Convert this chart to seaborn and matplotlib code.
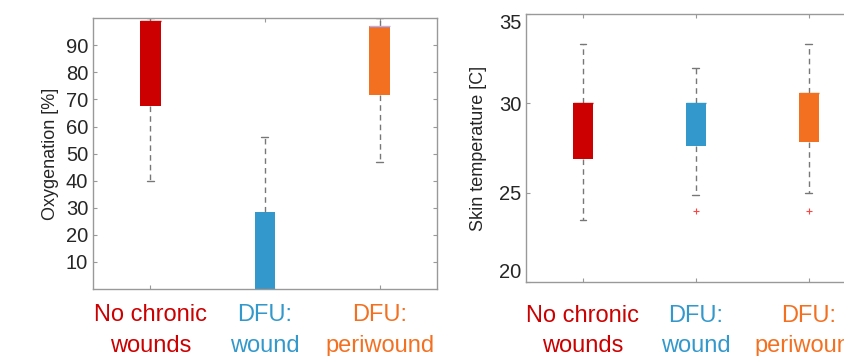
import matplotlib
matplotlib.use("Agg")
import matplotlib.pyplot as plt
import seaborn as sns

sns.set_style("white")
plt.rcParams['font.family'] = ['Liberation Sans', 'DejaVu Sans']

categories = ["No chronic\nwounds", "DFU:\nwound", "DFU:\nperiwound"]
colors = ["#cc0000", "#3399cc", "#f37021"]

# Oxygenation [%] summary stats
oxy_whislo = [40.0, 0.0, 47.0]
oxy_q1 = [67.5, 0.0, 71.5]
oxy_med = [99.0, 0.0, 97.2]
oxy_q3 = [99.0, 28.6, 97.0]
oxy_whishi = [100.0, 56.0, 100.0]
oxy_fliers = [[], [], []]
oxy_ticks = [10, 20, 30, 40, 50, 60, 70, 80, 90]

# Skin temperature [C] summary stats
temp_whislo = [23.5, 24.9, 25.0]
temp_q1 = [26.9, 27.6, 27.85]
temp_med = [30.0, 30.0, 30.6]
temp_q3 = [30.0, 30.0, 30.6]
temp_whishi = [33.3, 32.0, 33.3]
temp_fliers = [[], [24.0], [24.0]]
temp_ticks = [20, 25, 30, 35]

fig = plt.figure(figsize=(8.45, 3.56), dpi=100)
ax1 = fig.add_axes([0.110, 0.188, 0.407, 0.761])
ax2 = fig.add_axes([0.623, 0.207, 0.401, 0.754])


def draw(ax, wl, q1, med, q3, wh, fl):
    stats = []
    for i in range(len(categories)):
        stats.append(dict(whislo=wl[i], q1=q1[i], med=med[i], q3=q3[i],
                          whishi=wh[i], fliers=fl[i], label=categories[i]))
    res = ax.bxp(stats, positions=range(len(categories)), widths=0.18,
                 patch_artist=True, showfliers=True, capwidths=0.06,
                 boxprops=dict(linewidth=0),
                 whiskerprops=dict(color="#777777", linestyle=(0, (4, 3)), linewidth=1),
                 capprops=dict(color="#777777", linewidth=1),
                 medianprops=dict(linewidth=1),
                 flierprops=dict(marker="+", markeredgecolor="#ff4444",
                                 markersize=5, markeredgewidth=0.8, linestyle="none"))
    for b, c in zip(res["boxes"], colors):
        b.set_facecolor(c)
        b.set_edgecolor(c)
    for m, c in zip(res["medians"], colors):
        m.set_color(c)
    return res


r1 = draw(ax1, oxy_whislo, oxy_q1, oxy_med, oxy_q3, oxy_whishi, oxy_fliers)
r1["medians"][2].set_color("#b0b0ff")
draw(ax2, temp_whislo, temp_q1, temp_med, temp_q3, temp_whishi, temp_fliers)

for ax in (ax1, ax2):
    ax.set_xlim(-0.5, 2.5)
    for s in ax.spines.values():
        s.set_color("#999999")
        s.set_linewidth(1)
    ax.tick_params(axis="both", direction="in", color="#999999", length=3,
                   labelsize=14.5, top=True, right=True, left=True, bottom=True)
    ax.set_xticks(range(len(categories)))
    ax.set_xticklabels(categories, fontsize=17, linespacing=1.5)
    for t, c in zip(ax.get_xticklabels(), colors):
        t.set_color(c)

ax1.set_ylim(0, 100)
ax1.set_yticks(oxy_ticks)
ax1.set_ylabel("Oxygenation [%]", fontsize=13, labelpad=5)
ax1.tick_params(axis="x", pad=11)

ax2.set_ylim(20, 35)
ax2.set_yticks(temp_ticks)
ax2.set_ylabel("Skin temperature [C]", fontsize=13, labelpad=9)
ax2.tick_params(axis="x", pad=16)
labs = ax2.get_yticklabels()
labs[0].set_va("bottom")
labs[-1].set_va("top")

fig.savefig("out.png", dpi=100)
